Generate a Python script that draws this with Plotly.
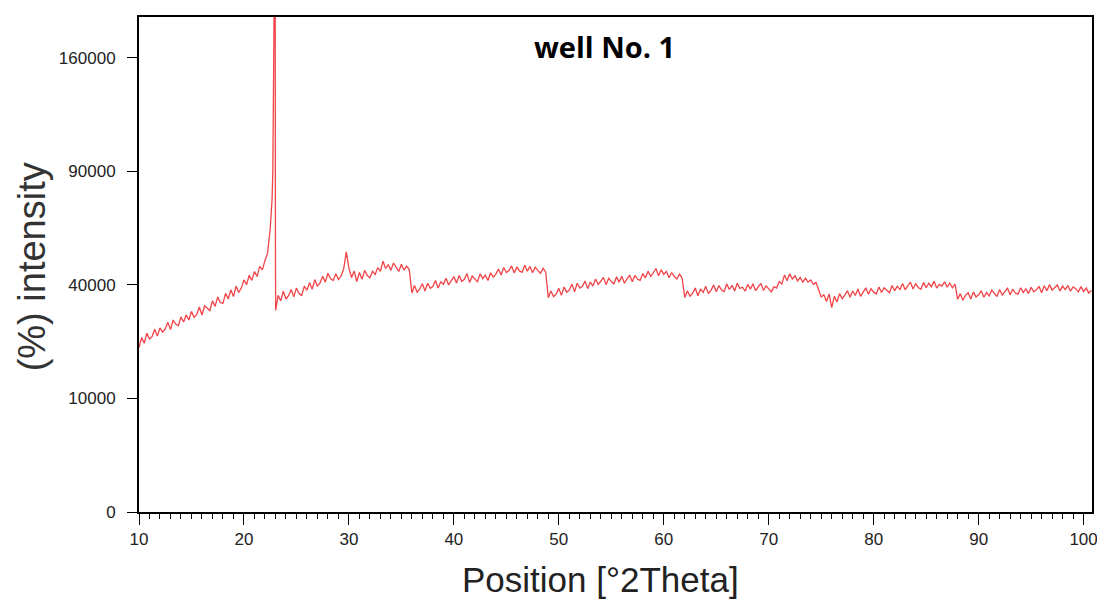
import numpy as np
import plotly.graph_objects as go

# Scan: intensity in thousands of counts, one value every 0.25 deg starting at 10 deg 2Theta
scan_start = 10.0
scan_step = 0.25
scan_k = [
    # 10.00 - 22.75
    21.0, 23.6, 22.1, 24.8, 23.2, 23.9, 25.9, 24.0, 26.3, 25.1, 26.0, 27.9,
    25.8, 28.6, 27.4, 26.9, 29.5, 28.0, 30.1, 28.6, 31.2, 29.4, 30.3, 32.6,
    30.1, 33.0, 32.2, 31.5, 34.6, 32.8, 35.9, 34.0, 33.8, 37.1, 35.2, 38.3,
    36.0, 39.6, 37.4, 38.9, 41.8, 40.1, 43.5, 41.6, 44.9, 43.0, 46.8, 45.5,
    49.0, 52.0, 62.0, 90.0,
    # 23.00
    55.0,
    # 23.25 - 35.75
    36.4, 34.6, 37.8, 35.2, 36.3, 38.4, 35.9, 38.9, 37.0, 36.4, 39.6, 38.1,
    40.8, 38.5, 41.9, 39.6, 40.7, 43.1, 41.0, 44.2, 42.3, 41.6, 44.0, 41.9,
    43.1, 45.8, 52.5, 46.2, 42.6, 45.1, 41.2, 44.5, 42.0, 45.3, 43.4, 42.5,
    45.0, 43.8, 46.3, 44.9, 48.8, 46.0, 47.5, 45.3, 48.1, 46.2, 44.9, 47.6,
    45.4, 46.9, 45.6,
    # 36.00 - 48.75
    37.2, 39.8, 37.5, 38.6, 40.4, 37.9, 40.6, 38.8, 39.4, 41.6, 38.9, 41.1,
    40.2, 42.4, 40.0, 41.5, 43.0, 40.7, 43.4, 41.2, 42.0, 44.1, 40.9, 43.2,
    42.0, 41.1, 44.0, 42.3, 43.5, 41.6, 44.4, 42.8, 43.9, 45.8, 43.6, 46.4,
    44.5, 45.2, 47.0, 44.3, 46.6, 45.1, 44.6, 47.2, 45.0, 46.8, 44.4, 46.5,
    45.3, 44.2, 46.1, 44.6,
    # 49.00 - 61.75
    35.6, 37.9, 36.0, 36.9, 38.8, 36.4, 39.3, 37.5, 38.2, 40.3, 37.6, 40.6,
    38.9, 39.5, 41.4, 38.7, 41.0, 39.6, 42.1, 40.2, 41.3, 42.7, 40.1, 42.4,
    41.2, 40.4, 42.9, 41.0, 43.1, 40.6, 42.2, 43.5, 41.1, 43.4, 42.0, 41.6,
    44.1, 42.5, 45.0, 43.1, 44.4, 46.0, 43.3, 45.5, 43.8, 44.9, 42.6, 44.5,
    43.0, 42.1, 43.9, 42.4,
    # 62.00 - 74.75
    35.7, 38.0, 36.1, 37.2, 38.9, 36.3, 38.6, 37.4, 39.5, 37.0, 38.1, 40.0,
    37.6, 39.8, 38.2, 37.7, 40.3, 38.4, 39.9, 37.9, 40.6, 38.8, 39.2, 37.8,
    40.2, 38.5, 40.4, 38.0, 39.3, 40.5, 38.1, 39.7, 38.6, 37.6, 39.4, 38.9,
    41.2, 40.3, 43.6, 41.5, 44.0, 42.1, 43.3, 41.4, 42.7, 40.9, 42.4, 41.0,
    41.8, 40.2, 40.9, 38.6,
    # 75.00 - 87.75
    35.9, 36.6, 34.4, 36.9, 32.4, 36.1, 34.2, 37.0, 35.3, 36.5, 38.0, 35.8,
    37.9, 36.4, 38.6, 36.1, 37.6, 39.0, 36.8, 38.7, 37.5, 36.9, 39.3, 37.4,
    39.0, 38.1, 37.3, 39.8, 38.0, 39.6, 38.4, 40.5, 38.3, 39.7, 41.0, 38.6,
    40.4, 39.1, 38.5, 40.9, 39.0, 40.6, 39.4, 41.3, 38.9, 40.2, 39.6, 41.1,
    39.2, 40.7, 39.0, 40.3,
    # 88.00 - 100.75
    35.1, 37.0, 34.8, 36.4, 37.3, 35.2, 37.6, 35.9, 36.6, 38.0, 35.8, 37.4,
    36.2, 38.2, 36.9, 36.0, 38.4, 36.5, 37.7, 38.8, 36.6, 38.5, 37.2, 36.8,
    39.0, 37.4, 38.6, 37.0, 39.2, 37.6, 38.3, 39.5, 37.3, 39.7, 38.0, 40.1,
    38.2, 39.0, 40.0, 37.9, 39.6, 38.4, 39.8, 37.8, 39.3, 38.7, 37.6, 39.4,
    37.7, 38.9, 37.2, 38.2,
]

# Extra readings around the sharp reflection near 23 deg (thousands of counts)
peak_x = [22.60, 22.68, 22.80, 22.85, 22.90, 22.94, 22.97, 23.02]
peak_k = [68.0, 76.0, 110.0, 150.0, 230.0, 270.0, 260.0, 31.5]

y_ticks = [0, 10000, 40000, 90000, 160000]
y_ticklabels = ["0", "10000", "40000", "90000", "160000"]
x_ticks = [10, 20, 30, 40, 50, 60, 70, 80, 90, 100]

scan_x = [scan_start + scan_step * i for i in range(len(scan_k))]
pts = sorted(zip(scan_x + peak_x, scan_k + peak_k))
xs = [p[0] for p in pts]
intensity = np.array([p[1] * 1000.0 for p in pts])

fig = go.Figure()
fig.add_trace(go.Scatter(
    x=xs, y=np.sqrt(intensity), mode="lines",
    line=dict(color="#f04448", width=1.3), hoverinfo="skip", showlegend=False,
))

W, H = 956, 497  # plot area size
fig.update_layout(
    width=1097, height=597,
    paper_bgcolor="white", plot_bgcolor="white",
    margin=dict(l=131, r=10, t=7, b=93),
    font=dict(family="Liberation Sans, Arial, sans-serif", color="#222"),
    showlegend=False,
)
fig.update_xaxes(
    range=[10, 100.8], tickvals=x_ticks,
    showgrid=False, zeroline=False,
    showline=True, linecolor="black", linewidth=2, mirror=True,
    ticks="outside", ticklen=11, tickwidth=1, tickcolor="black",
    minor=dict(dtick=1, ticks="outside", ticklen=5, tickcolor="black", tickwidth=1),
    tickfont=dict(size=17, color="#222"),
)
fig.update_yaxes(
    range=[0, 436], tickvals=list(np.sqrt(y_ticks)), ticktext=y_ticklabels,
    showgrid=False, zeroline=False,
    showline=True, linecolor="black", linewidth=2, mirror=True,
    ticks="outside", ticklen=10, tickwidth=1, tickcolor="black",
    ticklabelstandoff=8,
    tickfont=dict(size=17, color="#222"),
)

fig.add_annotation(
    text="(%) intensity", xref="paper", yref="paper",
    x=(32 - 139) / W, y=(512 - 266) / H, textangle=-90,
    showarrow=False, xanchor="center", yanchor="middle",
    font=dict(size=38, color="#333", family="Liberation Sans, Arial, sans-serif"),
)
fig.add_annotation(
    text="Position [°2Theta]", xref="paper", yref="paper",
    x=(602 - 139) / W, y=-(580 - 512) / H,
    showarrow=False, xanchor="center", yanchor="middle",
    font=dict(size=35, color="#222", family="Liberation Sans, Arial, sans-serif"),
)
fig.add_annotation(
    text="<b>well No. 1</b>", xref="paper", yref="paper",
    x=(606 - 139) / W, y=(512 - 45) / H,
    showarrow=False, xanchor="center", yanchor="middle",
    font=dict(size=29, color="black", family="Open Sans, sans-serif"),
)

fig.write_html("out.html")
